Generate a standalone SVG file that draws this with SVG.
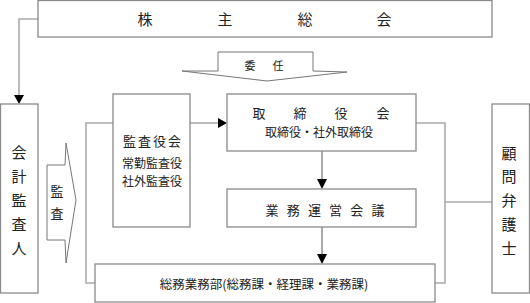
<svg xmlns="http://www.w3.org/2000/svg" width="530" height="303" viewBox="0 0 530 303">
<defs>
<style>
.box{fill:#fff;stroke:#8a8a8a;stroke-width:1.3}
.con{fill:none;stroke:#ababab;stroke-width:1.6}
.dk{fill:none;stroke:#666;stroke-width:1.1}
.ah{fill:#000}
.t{font-family:"Noto Sans CJK JP","Noto Sans",sans-serif;fill:#222;text-anchor:middle;dominant-baseline:central}
.shape{fill:#fff;stroke:#777;stroke-width:1}
</style>
</defs>
<rect width="530" height="303" fill="#fff"/>
<g id="connectors">
<polyline class="con" points="38,19 19,19 19,96"/>
<polygon class="ah" points="14,95 24,95 19,104"/>
<polyline class="con" points="190,123 219,123"/>
<polygon class="ah" points="218,118 218,128 227,123"/>
<polyline class="con" points="113,123 86,123 86,283 95,283"/>
<polyline class="con" points="416,123 445,123 445,283 435,283"/>
<polyline class="con" points="445,202 492,202"/>
<line class="dk" x1="322" y1="151" x2="322" y2="180"/>
<polygon class="ah" points="317,179 327,179 322,189"/>
<line class="dk" x1="322" y1="227" x2="322" y2="255"/>
<polygon class="ah" points="317,254 327,254 322,264"/>
</g>
<g id="shareholders">
<rect class="box" x="38" y="0.5" width="454" height="36.5"/>
<g class="t" font-size="15">
<text x="145" y="18">株</text><text x="225" y="18">主</text><text x="305" y="18">総</text><text x="384" y="18">会</text>
</g>
</g>
<g id="mandate">
<polygon class="shape" points="218,52 313,52 313,71 347,72 267,81 182,71 218,71"/>
<g class="t" font-size="11"><text x="250" y="65">委</text><text x="278" y="65">任</text></g>
</g>
<g id="auditor">
<rect class="box" x="0.5" y="104" width="37.5" height="189"/>
<g class="t" font-size="15">
<text x="19" y="151">会</text><text x="19" y="175">計</text><text x="19" y="199">監</text><text x="19" y="223">査</text><text x="19" y="247">人</text>
</g>
</g>
<g id="audit">
<polygon class="shape" points="47,165 65,165 66,143 76,200 66,263 65,240 47,240"/>
<g class="t" font-size="13"><text x="57" y="190">監</text><text x="57" y="212">査</text></g>
</g>
<g id="kansayakukai">
<rect class="box" x="113" y="94" width="77" height="133"/>
<g class="t" font-size="13">
<text x="129.5" y="140">監</text><text x="144.5" y="140">査</text><text x="159.5" y="140">役</text><text x="174.5" y="140">会</text>
</g>
<text class="t" font-size="12" x="152" y="162">常勤監査役</text>
<text class="t" font-size="12" x="152" y="180">社外監査役</text>
</g>
<g id="board">
<rect class="box" x="227" y="94" width="189" height="57"/>
<g class="t" font-size="13">
<text x="259" y="112">取</text><text x="300" y="112">締</text><text x="341" y="112">役</text><text x="383" y="112">会</text>
</g>
<text class="t" font-size="12" x="319" y="131">取締役・社外取締役</text>
</g>
<g id="operations">
<rect class="box" x="227" y="189" width="189" height="38"/>
<g class="t" font-size="13">
<text x="272" y="209">業</text><text x="293.2" y="209">務</text><text x="314.4" y="209">運</text><text x="335.6" y="209">営</text><text x="356.8" y="209">会</text><text x="378" y="209">議</text>
</g>
</g>
<g id="general-affairs">
<rect class="box" x="95" y="264" width="340" height="38"/>
<text class="t" font-size="12.5" x="264" y="283">総務業務部(総務課・経理課・業務課)</text>
</g>
<g id="lawyer">
<rect class="box" x="492" y="104" width="37.5" height="189"/>
<g class="t" font-size="15">
<text x="509" y="152">顧</text><text x="509" y="175">問</text><text x="509" y="199">弁</text><text x="509" y="223">護</text><text x="509" y="247">士</text>
</g>
</g>
</svg>
